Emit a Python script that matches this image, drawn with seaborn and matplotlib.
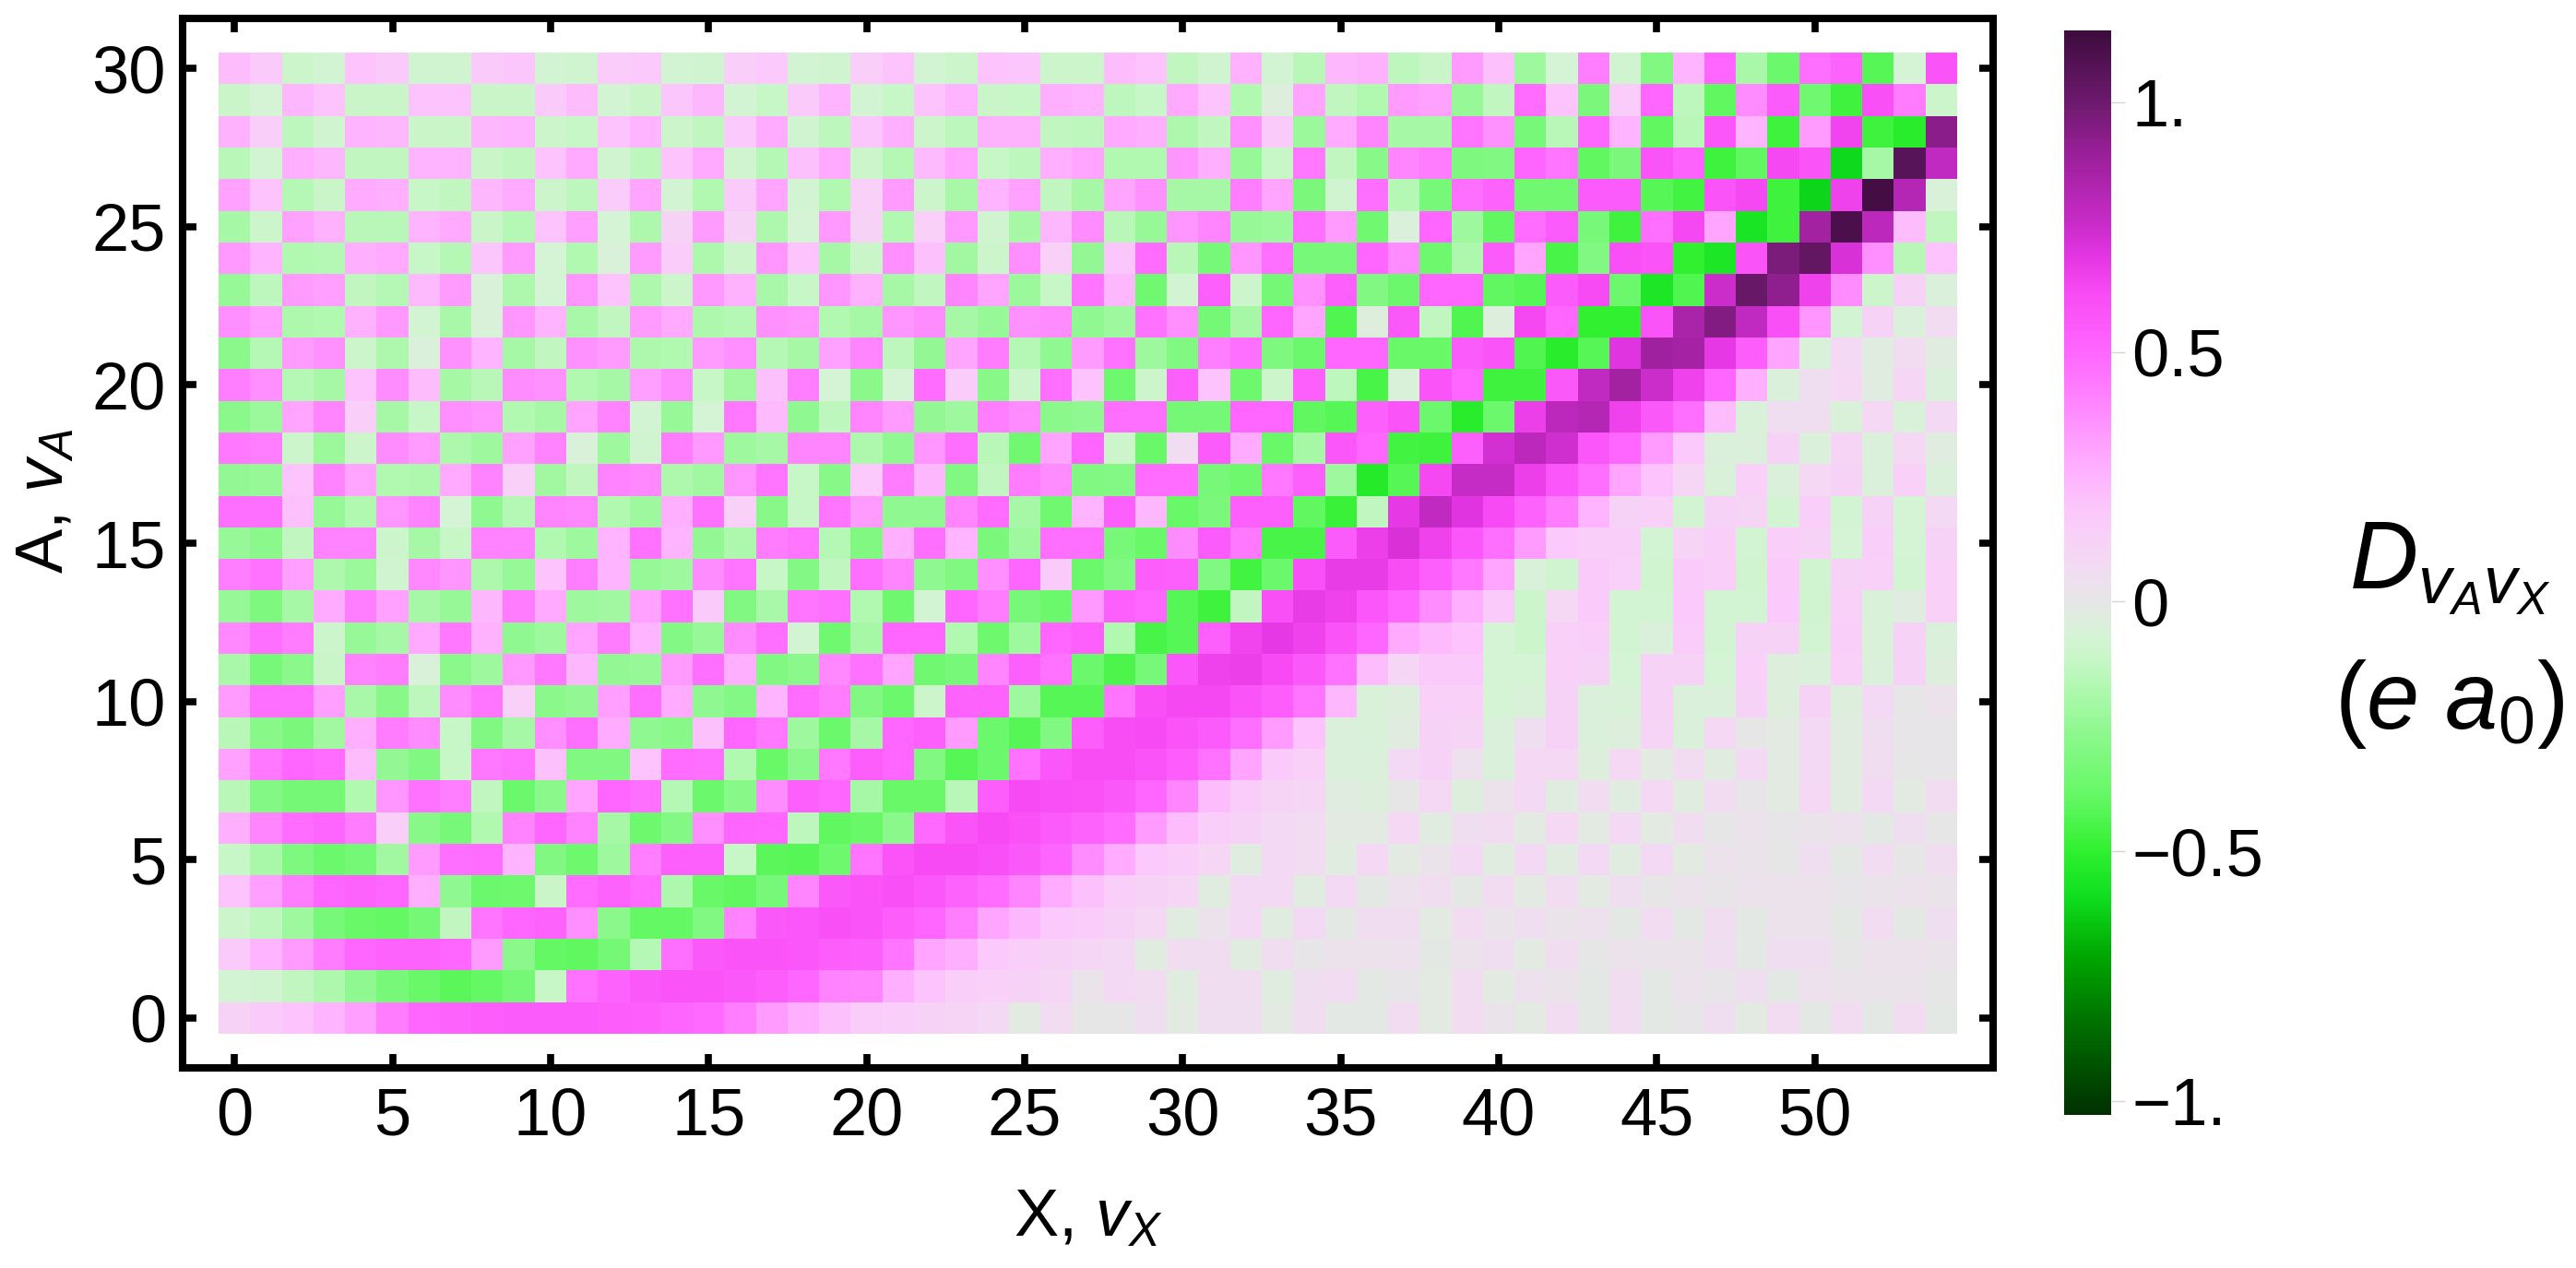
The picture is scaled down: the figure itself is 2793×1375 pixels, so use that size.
import matplotlib
matplotlib.use("Agg")
import matplotlib.pyplot as plt
from matplotlib.colors import LinearSegmentedColormap
import numpy as np
import seaborn as sns

W, H = 2793, 1375

# values, one list per A level, X = 0..54
row_30 = [.22,.17,-.1,-.08,.2,.17,-.09,-.09,.17,.19,-.08,-.09,.16,.18,-.08,-.09,.15,.18,-.08,-.09,.15,.2,-.08,-.1,.2,.19,-.1,-.1,.22,.2,-.13,-.09,.26,-.08,-.15,.24,.26,-.14,-.11,.33,.21,-.22,-.07,.42,-.09,-.3,.25,.5,-.19,-.37,.47,.52,-.42,-.07,.58]
row_29 = [-.11,-.07,.24,.2,-.11,-.11,.2,.2,-.11,-.11,.17,.22,-.08,-.11,.19,.24,-.08,-.12,.17,.25,-.08,-.12,.2,.25,-.11,-.12,.27,.25,-.14,-.12,.29,.2,-.17,-.04,.3,-.13,-.17,.33,.31,-.24,-.13,.48,.2,-.32,.16,.5,-.14,-.4,.38,.55,-.35,-.47,.6,.43,-.1]
row_28 = [.26,.15,-.14,-.09,.25,.24,-.11,-.11,.24,.25,-.1,-.12,.2,.25,-.1,-.13,.18,.28,-.09,-.14,.19,.27,-.1,-.14,.26,.26,-.13,-.14,.29,.27,-.18,-.13,.36,.17,-.23,.28,.4,-.2,-.2,.45,.36,-.33,-.15,.5,.25,-.4,-.15,.57,.25,-.47,.33,.64,-.47,-.52,.93]
row_27 = [-.15,-.08,.27,.24,-.13,-.13,.25,.25,-.11,-.13,.2,.29,-.09,-.14,.2,.29,-.09,-.16,.21,.29,-.1,-.16,.23,.3,-.12,-.14,.27,.3,-.17,-.17,.35,.27,-.24,-.12,.44,-.13,-.28,.4,.43,-.31,-.3,.51,.45,-.4,-.32,.58,.52,-.47,-.4,.63,.58,-.6,-.2,1.06,.78]
row_26 = [.31,.2,-.16,-.11,.28,.27,-.12,-.13,.24,.28,-.1,-.14,.16,.3,-.08,-.17,.17,.3,-.08,-.17,.14,.33,-.1,-.19,.25,.31,-.13,-.2,.3,.36,-.2,-.2,.42,.3,-.32,-.09,.47,-.16,-.33,.47,.52,-.35,-.35,.55,.55,-.42,-.46,.58,.63,-.47,-.61,.65,1.12,.82,-.06]
row_25 = [-.2,-.1,.31,.26,-.15,-.15,.25,.29,-.11,-.16,.2,.32,-.07,-.18,.13,.33,.13,-.18,-.07,.34,.12,-.17,.14,.34,-.09,-.2,.24,.38,-.15,-.24,.35,.4,-.24,-.23,.47,.33,-.35,-.05,.5,-.22,-.4,.48,.55,-.33,-.47,.47,.63,.3,-.56,-.47,.87,1.1,.8,.22,-.13]
row_24 = [.34,.25,-.17,-.16,.27,.29,-.12,-.16,.19,.33,-.07,-.17,-.06,.33,.16,-.18,-.1,.35,.2,-.2,-.11,.37,.21,-.21,-.1,.37,.14,-.25,.19,.48,-.15,-.33,.35,.47,-.33,-.33,.5,.38,-.36,-.18,.55,.3,-.45,-.3,.6,.58,-.5,-.55,.58,.97,1.03,.72,.37,-.15,.2]
row_23 = [-.24,-.14,.33,.32,-.13,-.16,.23,.33,-.06,-.18,-.07,.35,.2,-.18,-.1,.34,.26,-.19,-.12,.35,.26,-.2,-.13,.4,.3,-.23,-.12,.45,.24,-.35,-.08,.53,-.1,-.34,.36,.53,-.3,-.37,.5,.5,-.4,-.42,.55,.62,-.37,-.55,-.43,.75,1.02,.92,.65,.38,-.1,.13,-.05]
row_22 = [.37,.32,-.18,-.17,.26,.34,-.08,-.19,-.06,.35,.25,-.19,-.13,.33,.29,-.18,-.16,.36,.35,-.17,-.2,.35,.38,-.2,-.24,.36,.38,-.26,-.22,.46,.37,-.34,-.2,.5,.3,-.43,-.04,.56,-.13,-.43,-.04,.63,.5,-.5,-.5,.58,.85,.95,.78,.6,.35,-.08,.12,-.05,.07]
row_21 = [-.27,-.16,.33,.36,-.1,-.18,-.05,.36,.25,-.2,-.13,.36,.33,-.18,-.17,.33,.37,-.16,-.2,.31,.4,-.14,-.25,.3,.43,-.16,-.26,.33,.46,-.22,-.3,.42,.47,-.31,-.37,.5,.5,-.38,-.38,.55,.58,-.43,-.52,-.42,.7,.88,.86,.68,.54,.3,-.06,.08,-.03,.07,-.03]
row_20 = [.42,.37,-.16,-.2,.2,.38,.22,-.2,-.15,.38,.36,-.17,-.2,.32,.38,-.12,-.21,.21,.42,-.07,-.27,-.07,.48,.16,-.28,-.1,.47,.2,-.36,-.1,.53,.2,-.36,-.1,.53,-.14,-.45,-.06,.58,.5,-.47,-.47,.56,.78,.87,.75,.65,.5,.27,-.05,.05,.09,-.03,.1,-.05]
row_19 = [-.27,-.23,.3,.4,.15,-.2,-.12,.37,.35,-.17,-.2,.3,.41,-.08,-.24,-.07,.44,.23,-.26,-.14,.4,.33,-.25,-.22,.42,.38,-.27,-.26,.47,.47,-.34,-.34,.5,.5,-.4,-.42,.53,.58,-.37,-.52,-.37,.66,.8,.82,.65,.56,.47,.22,-.06,.05,.05,-.06,.09,-.06,.08]
row_18 = [.44,.42,-.1,-.23,-.1,.38,.33,-.18,-.22,.31,.41,-.06,-.22,-.09,.43,.34,-.22,-.2,.4,.4,-.18,-.26,.35,.47,-.15,-.35,.3,.5,-.1,-.38,.07,.55,.28,-.38,-.2,.57,.5,-.46,-.47,.53,.73,.8,.74,.57,.5,.33,.18,-.05,-.05,.12,-.05,.11,-.05,.09,-.03]
row_17 = [-.25,-.24,.2,.41,.3,-.17,-.18,.29,.41,.14,-.21,-.13,.41,.39,-.18,-.21,.35,.45,-.12,-.28,.18,.43,.24,-.3,-.13,.43,.38,-.3,-.29,.48,.48,-.33,-.36,.44,.53,-.22,-.53,-.42,.63,.77,.77,.66,.57,.47,.3,.2,.1,-.06,.14,-.05,.09,.13,-.05,.14,-.05]
row_16 = [.47,.47,.21,-.24,-.17,.35,.41,-.07,-.26,-.16,.4,.39,-.17,-.22,.27,.46,.14,-.28,-.12,.45,.33,-.26,-.26,.4,.48,-.2,-.35,.25,.53,.24,-.38,-.32,.53,.53,-.4,-.48,-.13,.68,.78,.7,.62,.52,.43,.25,.13,.14,-.08,.12,.11,-.08,.15,-.08,.12,-.07,.08]
row_15 = [-.24,-.27,-.13,.41,.41,-.1,-.2,-.12,.41,.41,-.17,-.22,.25,.46,.25,-.25,-.18,.43,.45,-.16,-.3,.27,.47,.25,-.32,-.22,.47,.47,-.33,-.38,.38,.55,.44,-.45,-.45,.55,.66,.72,.65,.57,.47,.33,.18,.15,.15,-.08,.11,.15,-.08,.15,.13,-.07,.15,-.07,.12]
row_14 = [.42,.46,.32,-.18,-.23,-.09,.39,.35,-.18,-.24,.2,.42,.25,-.24,-.22,.38,.45,-.12,-.29,-.13,.47,.4,-.26,-.3,.37,.5,.17,-.37,-.3,.54,.53,-.3,-.46,-.37,.6,.67,.67,.61,.53,.44,.3,-.06,-.09,.17,.14,-.09,.17,.15,-.09,.17,-.09,.12,.14,-.08,.14]
row_13 = [-.24,-.31,-.2,.28,.42,.31,-.2,-.24,.24,.43,.29,-.22,-.21,.31,.46,.17,-.3,-.19,.45,.47,-.17,-.36,-.08,.5,.43,-.33,-.37,.34,.53,.5,-.42,-.47,-.13,.6,.67,.65,.57,.5,.38,.27,.17,-.1,.09,.17,-.08,-.08,.18,-.08,-.08,.18,-.09,.14,-.06,-.03,.14]
row_12 = [.39,.47,.43,-.1,-.24,-.2,.29,.44,.26,-.26,-.22,.3,.43,.25,-.29,-.24,.38,.47,-.08,-.35,-.2,.5,.5,-.17,-.36,-.22,.5,.53,-.17,-.45,-.42,.53,.64,.68,.65,.58,.5,.29,.23,.2,-.07,-.1,.14,.15,-.08,-.05,.16,-.08,.13,.13,-.08,.15,-.06,.12,-.05]
row_11 = [-.19,-.33,-.27,-.11,.41,.43,-.06,-.27,-.22,.34,.44,.24,-.25,-.24,.33,.47,.27,-.3,-.27,.39,.46,.3,-.35,-.33,.4,.53,.46,-.37,-.44,-.33,.57,.65,.66,.62,.56,.46,.22,.1,.17,.17,-.07,-.07,.14,.12,-.07,.13,.13,-.07,.14,-.04,-.05,.14,-.05,.12,-.04]
row_10 = [.33,.47,.47,.32,-.19,-.28,-.14,.38,.45,.14,-.27,-.25,.32,.47,.28,-.26,-.29,.25,.48,.43,-.3,-.37,-.1,.52,.52,-.22,-.42,-.42,.45,.6,.63,.63,.58,.54,.45,.24,-.06,-.04,.14,.14,-.07,-.06,.13,-.05,-.06,.13,-.05,-.05,.13,-.04,.12,-.04,.08,0,.03]
row_9 = [-.15,-.28,-.32,-.21,.27,.43,.38,-.12,-.3,-.2,.37,.47,.28,-.26,-.28,.21,.5,.44,-.22,-.37,-.2,.5,.53,.33,-.37,-.42,-.3,.54,.61,.62,.58,.55,.47,.33,.2,-.05,-.06,-.03,.12,.11,-.05,.05,.12,-.05,-.04,.11,-.05,.09,0,-.02,.08,-.03,.05,.01,.01]
row_8 = [.31,.44,.5,.48,.22,-.25,-.3,-.12,.44,.46,.21,-.3,-.3,.2,.48,.47,-.17,-.38,-.27,.44,.54,.5,-.3,-.42,-.37,.46,.57,.61,.61,.58,.54,.46,.3,.17,.14,-.05,-.05,.08,.12,.04,-.05,.09,.09,-.04,.09,-.02,.07,-.03,.08,-.02,.08,-.03,.06,0,.01]
row_7 = [-.15,-.29,-.34,-.34,-.17,.35,.46,.42,-.13,-.37,-.27,.3,.5,.47,-.16,-.37,-.28,.38,.53,.5,-.2,-.38,-.38,-.15,.54,.62,.6,.59,.56,.5,.4,.22,.16,.11,.1,-.03,-.04,0,.09,-.04,.03,.08,-.03,.07,-.03,.09,-.03,.07,.01,-.02,.09,-.03,.08,-.02,.07]
row_6 = [.27,.4,.48,.51,.43,.15,-.28,-.33,-.17,.41,.5,.41,-.2,-.36,-.29,.37,.51,.5,-.14,-.4,-.38,-.27,.49,.58,.62,.59,.55,.52,.48,.33,.22,.15,.12,.08,.07,-.02,-.02,.09,-.03,.05,.07,-.02,.09,-.02,.08,-.02,.06,0,.03,.01,.02,.04,-.01,.05,0]
row_5 = [-.12,-.19,-.31,-.37,-.34,-.21,.33,.47,.48,.25,-.3,-.36,-.22,.42,.53,.53,-.12,-.41,-.42,-.36,.45,.58,.62,.62,.6,.56,.51,.38,.28,.18,.15,.1,-.03,.08,.07,-.03,.09,-.02,.02,.08,-.03,.08,-.03,.08,-.03,.08,-.02,.03,.02,0,.05,-.01,.07,0,.06]
row_4 = [.2,.32,.43,.5,.52,.5,.27,-.26,-.37,-.36,-.11,.48,.52,.48,-.18,-.38,-.4,-.33,.4,.56,.58,.6,.57,.52,.48,.4,.28,.21,.15,.12,.1,-.03,.08,.08,-.03,.08,-.01,.04,.06,-.01,.07,-.02,.07,-.02,.05,0,.03,.01,.03,.03,.03,.01,.02,.03,.02]
row_3 = [-.1,-.14,-.22,-.33,-.38,-.39,-.34,-.13,.45,.5,.52,.37,-.27,-.39,-.39,-.3,.41,.56,.57,.6,.58,.54,.5,.42,.3,.24,.18,.16,.12,.09,-.03,.03,.08,-.03,.08,-.01,.06,.06,-.02,.07,.02,.05,.02,.04,-.01,.07,-.01,.06,-.01,.03,.03,-.01,.07,-.01,.05]
row_2 = [.17,.25,.33,.43,.5,.52,.52,.5,.33,-.27,-.39,-.4,-.34,-.16,.47,.56,.58,.58,.57,.54,.53,.45,.3,.27,.18,.15,.12,.1,.08,-.03,.06,.06,-.03,.06,.01,.03,.03,.04,-.01,.03,.05,-.02,.06,0,.03,.02,.02,.05,-.01,.05,.05,0,.03,.03,.02]
row_1 = [-.08,-.09,-.13,-.18,-.26,-.33,-.38,-.41,-.39,-.34,-.12,.46,.52,.56,.58,.58,.56,.54,.5,.41,.4,.27,.2,.15,.14,.12,.1,.02,.08,.07,-.03,.06,.06,-.03,.05,.07,-.01,.01,-.02,.07,-.02,.04,.02,-.01,.06,-.01,.03,.01,.05,-.01,.04,.02,.02,.02,0]
row_0 = [.13,.17,.2,.25,.32,.43,.5,.52,.54,.55,.55,.55,.54,.53,.51,.49,.42,.33,.27,.21,.16,.15,.12,.11,.08,-.02,.07,0,0,.05,-.02,.05,.05,-.02,.06,-.01,-.01,.07,-.02,.07,.02,-.02,.07,-.01,.07,-.01,.01,.05,-.02,.07,-.01,.07,-.01,.07,-.01]

rows_top_down = [row_30, row_29, row_28, row_27, row_26, row_25, row_24, row_23, row_22, row_21,
                 row_20, row_19, row_18, row_17, row_16, row_15, row_14, row_13, row_12, row_11,
                 row_10, row_9, row_8, row_7, row_6, row_5, row_4, row_3, row_2, row_1, row_0]

x_ticks = [0, 5, 10, 15, 20, 25, 30, 35, 40, 45, 50]
y_ticks = [0, 5, 10, 15, 20, 25, 30]
cbar_ticks = [-1, -0.5, 0, 0.5, 1]
cbar_labels = ["\u22121.", "\u22120.5", "0", "0.5", "1."]
vmin, vmax = -1.028, 1.144

# colour bar read by eye
stop_vals = [-1.028, -.847, -.71, -.587, -.5, -.387, -.28, -.173, -.12, -.07, -.03, 0, .03, .09, .18, .286, .39, .5, .62, .7, .76, .9, 1.0, 1.144]
stop_cols = ["#003000", "#007000", "#00a800", "#10e020", "#30f030", "#66f866", "#88f888", "#b0f8b0", "#c6f6c6", "#d6f3d6", "#e0ece0", "#e6e6e6",
             "#ece2ec", "#f4d8f4", "#fbc9fb", "#ffaaff", "#ff88ff", "#ff66ff", "#f84af4", "#e034e0", "#c82cc8", "#991f99", "#6e1a6e", "#3d0c3d"]
cmap = LinearSegmentedColormap.from_list(
    "green_magenta", [((v - vmin) / (vmax - vmin), c) for v, c in zip(stop_vals, stop_cols)], N=512)

sns.set_theme(style="white")
plt.rcParams["font.family"] = ["Liberation Sans", "DejaVu Sans"]
plt.rcParams["mathtext.fontset"] = "custom"
plt.rcParams["mathtext.rm"] = "Liberation Sans"
plt.rcParams["mathtext.it"] = "Liberation Sans:italic"
plt.rcParams["mathtext.bf"] = "Liberation Sans:bold"


def box(x0, y0, x1, y1):
    return [x0 / W, 1 - y1 / H, (x1 - x0) / W, (y1 - y0) / H]


fig = plt.figure(figsize=(W / 100, H / 100), dpi=100)
ax = fig.add_axes(box(198, 20, 2161, 1158))
cax = fig.add_axes(box(2238, 33, 2289, 1209))

data = np.array(rows_top_down)
sns.heatmap(data, ax=ax, cbar_ax=cax, cmap=cmap, vmin=vmin, vmax=vmax, linewidths=0, square=False,
            xticklabels=False, yticklabels=False)

cw = (2122 - 237) / 55
ch = (1121 - 57) / 31
ax.set_xlim(-(237 - 198) / cw, 55 + (2161 - 2122) / cw)
ax.set_ylim(31 + (1158 - 1121) / ch, -(57 - 20) / ch)

ax.set_xticks([v + 0.5 for v in x_ticks], labels=[str(v) for v in x_ticks])
ax.set_yticks([30 - v + 0.5 for v in y_ticks], labels=[str(v) for v in y_ticks])
ax.tick_params(axis="both", which="major", direction="in", length=10.8, width=5.5, color="black",
               labelsize=52, labelcolor="black", top=True, right=True, bottom=True, left=True)
ax.tick_params(axis="x", pad=15)
ax.tick_params(axis="y", pad=13)
for s in ax.spines.values():
    s.set_visible(True)
    s.set_linewidth(5.8)
    s.set_color("black")

cbar = ax.collections[0].colorbar
cbar.outline.set_visible(False)
cbar.set_ticks(cbar_ticks, labels=cbar_labels)
cax.tick_params(axis="y", direction="out", length=11, width=1, color="#d4d4d4", labelsize=52, pad=5,
                labelcolor="black", left=False, right=True)

fig.text(1180 / W, 1 - 1322 / H, r"X, $v_{X}$", fontsize=52, ha="center", va="center", color="black")
fig.text(50 / W, 1 - 543 / H, r"A, $v_{A}$", fontsize=52, ha="center", va="center", rotation=90, color="black")
fig.text(2656 / W, 1 - 617 / H, r"$D_{v_{A}v_{X}}$", fontsize=74, ha="center", va="center", color="black")
fig.text(2656 / W, 1 - 764 / H, r"$(e\ a_{\mathit{0}})$", fontsize=74, ha="center", va="center", color="black")

fig.savefig("out.png", dpi=100)
